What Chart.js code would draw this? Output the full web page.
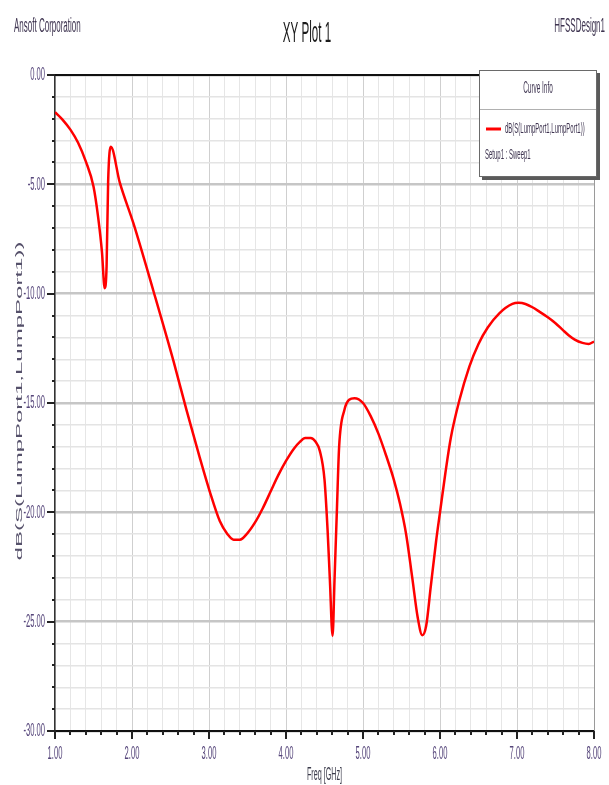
<!DOCTYPE html>
<html>
<head>
<meta charset="utf-8">
<script src="https://cdn.jsdelivr.net/npm/chart.js@4/dist/chart.umd.min.js"></script>
<style>
  html, body { margin: 0; padding: 0; background: #ffffff; }
  #wrap { position: relative; width: 609px; height: 785px; }
  canvas { display: block; }
</style>
</head>
<body>
<div id="wrap"><canvas id="c" width="609" height="785"></canvas></div>
<script>
// ---- Data ----
const freqGHz = [1.00,1.10,1.20,1.30,1.40,1.50,1.56,1.61,1.645,1.67,1.69,1.725,1.84,2.02,2.28,2.54,2.71,2.88,3.01,3.14,3.24,3.32,3.40,3.50,3.60,3.70,3.80,3.90,4.00,4.10,4.18,4.25,4.32,4.38,4.44,4.50,4.54,4.57,4.605,4.63,4.66,4.69,4.76,4.82,4.89,5.00,5.10,5.20,5.30,5.40,5.48,5.56,5.64,5.71,5.77,5.82,5.88,5.95,6.00,6.07,6.14,6.25,6.38,6.50,6.62,6.77,6.94,7.02,7.11,7.20,7.29,7.40,7.50,7.60,7.67,7.75,7.85,7.93,8.00];
const dBS11 = [-1.70,-2.05,-2.50,-3.10,-3.95,-5.10,-6.50,-8.10,-9.75,-8.75,-4.90,-3.28,-4.90,-6.80,-9.90,-13.10,-15.35,-17.50,-19.05,-20.40,-21.00,-21.25,-21.25,-20.95,-20.45,-19.80,-19.05,-18.30,-17.65,-17.10,-16.78,-16.60,-16.60,-16.75,-17.20,-18.50,-20.80,-23.10,-25.65,-23.10,-20.00,-17.00,-15.30,-14.85,-14.78,-15.00,-15.60,-16.40,-17.40,-18.50,-19.60,-21.00,-23.00,-24.80,-25.62,-25.20,-23.40,-21.30,-20.00,-18.20,-16.60,-14.90,-13.35,-12.30,-11.55,-10.90,-10.47,-10.42,-10.47,-10.62,-10.82,-11.08,-11.35,-11.68,-11.90,-12.10,-12.25,-12.30,-12.19];
const xTickValues = [1,2,3,4,5,6,7,8];
const yTickValues = [0,-5,-10,-15,-20,-25,-30];
const seriesName = 'dB(S(LumpPort1,LumpPort1))';
const setupName = 'Setup1 : Sweep1';
const chartTitle = 'XY Plot 1';
const leftNote = 'Ansoft Corporation';
const rightNote = 'HFSSDesign1';
const xTitle = 'Freq [GHz]';
const yTitle = 'dB(S(LumpPort1,LumpPort1))';

const FONT = '"Liberation Sans", Arial, sans-serif';
const SQ = 0.4; // horizontal condensing of the reference text
const labelColor = '#55457a';

function isMult(v, m) { return Math.abs(v / m - Math.round(v / m)) < 1e-6; }

function sqText(ctx, text, x, y, size, align, color, baseline) {
  ctx.save();
  ctx.translate(x, y);
  ctx.scale(SQ, 1);
  ctx.font = size + 'px ' + FONT;
  ctx.fillStyle = color;
  ctx.textAlign = align;
  ctx.textBaseline = baseline || 'alphabetic';
  ctx.fillText(text, 0, 0);
  ctx.restore();
}

const decor = {
  id: 'decor',
  afterDraw(chart) {
    const ctx = chart.ctx;
    const a = chart.chartArea;
    const xs = chart.scales.x, ys = chart.scales.y;
    ctx.save();
    // top frame line and right frame line
    ctx.strokeStyle = '#111'; ctx.lineWidth = 2;
    ctx.beginPath(); ctx.moveTo(a.left, a.top); ctx.lineTo(a.right, a.top); ctx.stroke();
    ctx.strokeStyle = '#9a9a9a'; ctx.lineWidth = 1;
    ctx.beginPath(); ctx.moveTo(a.right + 0.5, a.top); ctx.lineTo(a.right + 0.5, a.bottom); ctx.stroke();

    // y tick marks
    ctx.strokeStyle = '#222'; ctx.lineWidth = 2;
    for (let v = -30; v <= 0; v += 1) {
      const py = Math.round(ys.getPixelForValue(v));
      const len = isMult(v, 5) ? 8 : 3;
      ctx.beginPath(); ctx.moveTo(a.left - len, py); ctx.lineTo(a.left, py); ctx.stroke();
    }
    // x tick marks
    for (let i = 0; i <= 35; i++) {
      const v = 1 + i * 0.2;
      const px = Math.round(xs.getPixelForValue(v));
      const len = isMult(v, 1) ? 8 : 4;
      ctx.beginPath(); ctx.moveTo(px, a.bottom); ctx.lineTo(px, a.bottom + len); ctx.stroke();
    }
    // tick labels
    yTickValues.forEach(v => {
      sqText(ctx, v.toFixed(2), a.left - 10, ys.getPixelForValue(v), 19, 'right', labelColor, 'middle');
    });
    xTickValues.forEach(v => {
      sqText(ctx, v.toFixed(2), xs.getPixelForValue(v), 754, 19, 'center', labelColor, 'middle');
    });
    // axis titles
    sqText(ctx, xTitle, (a.left + a.right) / 2, 775, 18, 'center', '#3a3a4a', 'middle');
    ctx.save();
    ctx.translate(19, 401);
    ctx.scale(SQ, 1);
    ctx.rotate(-Math.PI / 2);
    ctx.font = '24px ' + FONT;
    ctx.fillStyle = '#55506a';
    ctx.textAlign = 'center';
    ctx.textBaseline = 'middle';
    ctx.fillText(yTitle, 0, 0);
    ctx.restore();

    // header texts
    sqText(ctx, leftNote, 14, 32, 20, 'left', '#3e3450');
    sqText(ctx, chartTitle, 307, 42, 29, 'center', '#1a1a1a');
    sqText(ctx, rightNote, 605, 32, 20, 'right', '#3e3450');

    // legend box (Curve Info)
    const bx = 479, by = 70, bw = 118, bh = 107;
    ctx.fillStyle = '#5a5a5a';
    ctx.fillRect(bx + 3, by + 3, bw, bh);
    ctx.fillStyle = '#ffffff';
    ctx.fillRect(bx, by, bw, bh);
    ctx.strokeStyle = '#6a6a6a'; ctx.lineWidth = 1;
    ctx.strokeRect(bx + 0.5, by + 0.5, bw - 1, bh - 1);
    ctx.strokeStyle = '#b0b0b0';
    ctx.beginPath(); ctx.moveTo(bx + 1, 109.5); ctx.lineTo(bx + bw - 1, 109.5); ctx.stroke();
    sqText(ctx, 'Curve Info', bx + bw / 2, 89, 16, 'center', '#3e3450', 'middle');
    ctx.strokeStyle = '#ff0000'; ctx.lineWidth = 3;
    ctx.beginPath(); ctx.moveTo(486, 129); ctx.lineTo(501, 129); ctx.stroke();
    sqText(ctx, seriesName, 505, 129, 15, 'left', '#3e3450', 'middle');
    sqText(ctx, setupName, 485, 155, 15, 'left', '#3e3450', 'middle');
    ctx.restore();
  }
};

const points = freqGHz.map((f, i) => ({ x: f, y: dBS11[i] }));

new Chart(document.getElementById('c'), {
  type: 'line',
  data: {
    datasets: [{
      label: seriesName,
      data: points,
      borderColor: '#ff0000',
      borderWidth: 2.5,
      pointRadius: 0,
      fill: false,
      cubicInterpolationMode: 'monotone'
    }]
  },
  options: {
    responsive: false,
    animation: false,
    devicePixelRatio: 1,
    layout: { padding: { left: 0, right: 15, top: 75, bottom: 0 } },
    plugins: { legend: { display: false }, title: { display: false }, tooltip: { enabled: false } },
    scales: {
      x: {
        type: 'linear', min: 1, max: 8,
        afterFit(s) { s.height = 54; },
        ticks: { display: false, stepSize: 0.2, autoSkip: false },
        grid: {
          drawTicks: false,
          color: c => (c.tick && isMult(c.tick.value, 1)) ? '#cfcfcf' : '#e6e6e6',
          lineWidth: 1
        },
        border: { display: true, color: '#111', width: 2 }
      },
      y: {
        type: 'linear', min: -30, max: 0,
        afterFit(s) { s.width = 55; },
        ticks: { display: false, stepSize: 1, autoSkip: false },
        grid: {
          drawTicks: false,
          color: c => (c.tick && isMult(c.tick.value, 5)) ? '#c6c6c6' : '#e4e4e4',
          lineWidth: c => (c.tick && isMult(c.tick.value, 5)) ? 2.5 : 1.5
        },
        border: { display: true, color: '#333', width: 1.5 }
      }
    }
  },
  plugins: [decor]
});
</script>
</body>
</html>
